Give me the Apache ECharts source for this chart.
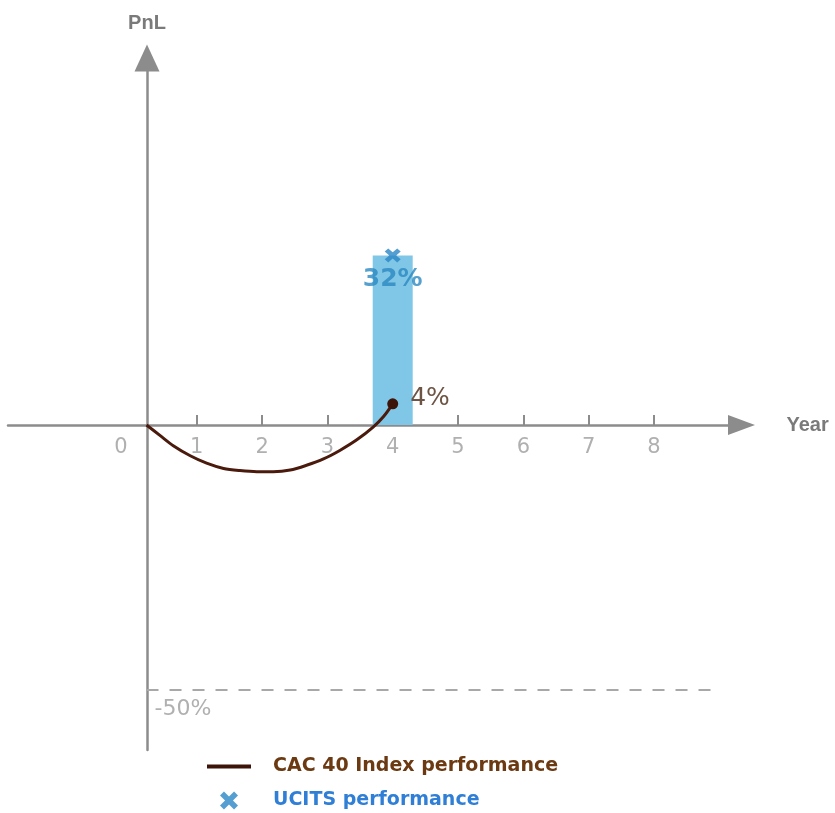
<!DOCTYPE html>
<html>
<head>
<meta charset="utf-8">
<script src="https://cdn.jsdelivr.net/npm/echarts@6/dist/echarts.min.js"></script>
<style>
  html, body { margin: 0; padding: 0; background: #ffffff; }
  #chart { width: 835px; height: 813px; }
</style>
</head>
<body>
<div id="chart"></div>
<script>
// ---- data ----
const xTickValues = [1, 2, 3, 4, 5, 6, 7, 8];
const xLabelValues = [0, 1, 2, 3, 4, 5, 6, 7, 8];
const cacYears = [0.23, 0.44, 0.64, 0.9, 1.15, 1.41, 1.66, 1.92, 2.17, 2.43, 2.68, 2.94, 3.19, 3.45, 3.7, 3.86, 4.0];
const cacPnl   = [0, -2.0, -3.9, -5.8, -7.2, -8.2, -8.6, -8.8, -8.8, -8.5, -7.6, -6.4, -4.8, -2.8, -0.4, 1.6, 4];
const ucitsYears = [4];
const ucitsPnl = [32];
const floorYears = [0.23, 8.98];
const floorPnl = [-50, -50];
const seriesNames = ['CAC 40 Index performance', 'UCITS performance'];

// ---- axis extents ----
const X_MIN = -1.891, X_MAX = 9.341;
const Y_MIN = -61.32, Y_MAX = 69.25;

const pct = v => v + '%';
const xPath = 'path://M0,3.5L3.5,0L8,4.5L12.5,0L16,3.5L11.5,8L16,12.5L12.5,16L8,11.5L3.5,16L0,12.5L4.5,8Z';

const cacData = cacYears.map((x, i) => {
  const item = { value: [x, cacPnl[i]] };
  if (i === cacYears.length - 1) {
    item.symbol = 'circle';
    item.symbolSize = 11;
    item.label = {
      show: true, position: 'right', distance: 12, offset: [0, -5],
      formatter: p => pct(p.value[1]),
      color: '#6e5444', fontSize: 25, fontFamily: 'DejaVu Sans'
    };
  }
  return item;
});

const floorData = floorYears.map((x, i) => {
  const item = { value: [x, floorPnl[i]] };
  if (i === 0) {
    item.symbol = 'circle';
    item.symbolSize = 1;
    item.itemStyle = { color: 'rgba(0,0,0,0)' };
    item.label = {
      show: true, position: 'bottom', align: 'left', distance: 8, offset: [8, 0],
      formatter: p => pct(p.value[1]),
      color: '#b0b0b0', fontSize: 22, fontFamily: 'DejaVu Sans'
    };
  }
  return item;
});

const chart = echarts.init(document.getElementById('chart'), null, { renderer: 'canvas' });
chart.setOption({
  backgroundColor: '#ffffff',
  animation: false,
  grid: { left: 8, right: 93.5, top: 58, bottom: 63, containLabel: false, outerBoundsMode: 'none' },
  legend: {
    orient: 'vertical', left: 207, top: 757, padding: 0,
    itemWidth: 44, itemHeight: 18, itemGap: 15, symbolKeepAspect: true,
    selectedMode: false,
    data: [
      { name: seriesNames[0], icon: 'path://M0,0H44V4H0Z', textStyle: { color: '#6b3a12' } },
      { name: seriesNames[1], icon: xPath, textStyle: { color: '#2f7fd6' } }
    ],
    textStyle: { fontFamily: 'DejaVu Sans', fontWeight: 'bold', fontSize: 19, padding: [0, 0, 0, 17] }
  },
  xAxis: {
    type: 'value', min: X_MIN, max: X_MAX, position: 'bottom', offset: -325,
    name: 'Year', nameLocation: 'end', nameGap: 45,
    nameTextStyle: { color: '#7a7a7a', fontFamily: 'Liberation Sans', fontWeight: 'bold', fontSize: 20, verticalAlign: 'middle' },
    axisLine: { show: true, onZero: false, symbol: ['none', 'triangle'], symbolSize: [20, 27],
      lineStyle: { color: '#8c8c8c', width: 2.5 } },
    axisTick: { show: true, inside: true, length: 10, customValues: xTickValues,
      lineStyle: { color: '#8c8c8c', width: 2 } },
    axisLabel: {
      customValues: xLabelValues, margin: 12, color: '#b0b0b0', fontSize: 21, fontFamily: 'DejaVu Sans',
      formatter: v => (v === 0 ? '{z|0}' : String(v)),
      rich: { z: { padding: [0, 21, 0, 0], color: '#b0b0b0', fontSize: 21, fontFamily: 'DejaVu Sans' } }
    },
    splitLine: { show: false }
  },
  yAxis: {
    type: 'value', min: Y_MIN, max: Y_MAX, position: 'left', offset: -139,
    name: 'PnL', nameLocation: 'end', nameGap: 25,
    nameTextStyle: { color: '#7a7a7a', fontFamily: 'Liberation Sans', fontWeight: 'bold', fontSize: 20 },
    axisLine: { show: true, onZero: false, symbol: ['none', 'triangle'], symbolSize: [25, 27],
      lineStyle: { color: '#8c8c8c', width: 2.5 } },
    axisTick: { show: false },
    axisLabel: { show: false },
    splitLine: { show: false }
  },
  series: [
    {
      name: 'UCITS bar', type: 'bar', barWidth: 40, silent: true,
      data: ucitsYears.map((x, i) => [x, ucitsPnl[i]]),
      itemStyle: { color: '#80c7e7' }, z: 1
    },
    {
      name: 'floor', type: 'line', silent: true, symbol: 'none',
      data: floorData,
      lineStyle: { color: '#a8a8a8', width: 2, type: [12, 11] }, z: 2
    },
    {
      name: seriesNames[0], type: 'line', smooth: 0.3, symbol: 'none', silent: true,
      data: cacData,
      color: '#3d1408',
      itemStyle: { color: '#3d1408' },
      lineStyle: { color: '#4a1a0c', width: 3 }, z: 3
    },
    {
      name: seriesNames[1], type: 'scatter', symbol: xPath, symbolSize: [16, 14], silent: true,
      data: ucitsYears.map((x, i) => [x, ucitsPnl[i]]),
      color: '#2a86c6',
      itemStyle: { color: '#2a86c6' },
      label: {
        show: true, position: 'bottom', distance: 5,
        formatter: p => pct(p.value[1]),
        color: '#2a88c0', fontSize: 25, fontWeight: 'bold', fontFamily: 'DejaVu Sans'
      },
      z: 4
    }
  ]
});
</script>
</body>
</html>
